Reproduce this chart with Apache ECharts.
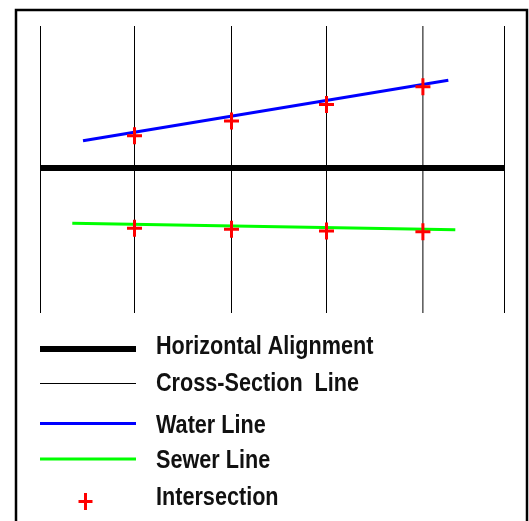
<!DOCTYPE html>
<html>
<head>
<meta charset="utf-8">
<script src="https://cdn.jsdelivr.net/npm/echarts@6/dist/echarts.min.js"></script>
<style>html,body{margin:0;padding:0;background:#fff;}#c{width:529px;height:521px;}</style>
</head>
<body>
<div id="c"></div>
<script>
// Station offsets of the cross-section lines (horizontal units) and their vertical extent
const sectionX = [0, 94, 191, 286, 382.4, 464];
const sectionY = [0, 287];
// Horizontal alignment
const alignmentX = [0, 464];
const alignmentY = [145, 145];
// Water line
const waterX = [42.5, 407.8];
const waterY = [172.3, 232.7];
// Sewer line
const sewerX = [31.8, 414.8];
const sewerY = [89.7, 83.3];
// Intersections
const hitX = [94, 191, 286, 382.4];
const waterHitY = [177.3, 192, 208.5, 226.3];
const sewerHitY = [84.7, 83.7, 82, 81.3];
// Legend labels
const legendLabels = ['Horizontal Alignment', 'Cross-Section  Line', 'Water Line', 'Sewer Line', 'Intersection'];

const pair = (xs, ys) => xs.map((x, i) => [x, ys[i]]);
const plusPath = 'path://M6,0H9V7H15V10H9V17H6V10H0V7H6Z';

const series = [];
sectionX.forEach(x => {
  series.push({
    type: 'line', name: legendLabels[1], silent: true, symbol: 'none',
    data: sectionY.map(y => [x, y]),
    lineStyle: { color: '#000', width: 1 }, z: 1
  });
});
series.push({
  type: 'line', name: legendLabels[0], silent: true, symbol: 'none',
  data: pair(alignmentX, alignmentY),
  lineStyle: { color: '#000', width: 6, cap: 'butt' }, z: 2
});
series.push({
  type: 'line', name: legendLabels[2], silent: true, symbol: 'none',
  data: pair(waterX, waterY),
  lineStyle: { color: '#0000ff', width: 3, cap: 'butt' }, z: 3
});
series.push({
  type: 'line', name: legendLabels[3], silent: true, symbol: 'none',
  data: pair(sewerX, sewerY),
  lineStyle: { color: '#00ff00', width: 3, cap: 'butt' }, z: 3
});
series.push({
  type: 'scatter', name: legendLabels[4], silent: true,
  symbol: plusPath, symbolSize: [15, 17],
  data: pair(hitX, waterHitY).concat(pair(hitX, sewerHitY)),
  itemStyle: { color: '#ff0000', opacity: 1 }, z: 5
});

const font = "'Liberation Sans', Arial, sans-serif";
const textYs = [347, 384, 426, 461, 498.5];
const legendGraphics = [
  { type: 'rect', shape: { x: 16, y: 10, width: 511, height: 530 }, style: { fill: 'none', stroke: '#000', lineWidth: 2.5 } },
  { type: 'line', shape: { x1: 40, y1: 349, x2: 136, y2: 349 }, style: { stroke: '#000', lineWidth: 6 } },
  { type: 'line', shape: { x1: 40, y1: 383.5, x2: 136, y2: 383.5 }, style: { stroke: '#000', lineWidth: 1 } },
  { type: 'line', shape: { x1: 40, y1: 423.5, x2: 136, y2: 423.5 }, style: { stroke: '#0000ff', lineWidth: 3 } },
  { type: 'line', shape: { x1: 40, y1: 459, x2: 136, y2: 459 }, style: { stroke: '#00ff00', lineWidth: 3 } },
  { type: 'rect', shape: { x: 78.5, y: 500, width: 14, height: 3 }, style: { fill: '#ff0000' } },
  { type: 'rect', shape: { x: 84, y: 493, width: 3, height: 17 }, style: { fill: '#ff0000' } }
];
legendLabels.forEach((t, i) => {
  legendGraphics.push({
    type: 'text', x: 156, y: textYs[i], scaleX: 0.865,
    style: { text: t, fill: '#111', font: 'bold 25px ' + font, textVerticalAlign: 'middle', textAlign: 'left' }
  });
});

const chart = echarts.init(document.getElementById('c'), null, { renderer: 'canvas' });
chart.setOption({
  animation: false,
  backgroundColor: '#fff',
  grid: { left: 40.5, top: 26, width: 464, height: 287 },
  xAxis: { type: 'value', min: 0, max: 464, show: false },
  yAxis: { type: 'value', min: 0, max: 287, show: false },
  series: series,
  graphic: legendGraphics
});
</script>
</body>
</html>
